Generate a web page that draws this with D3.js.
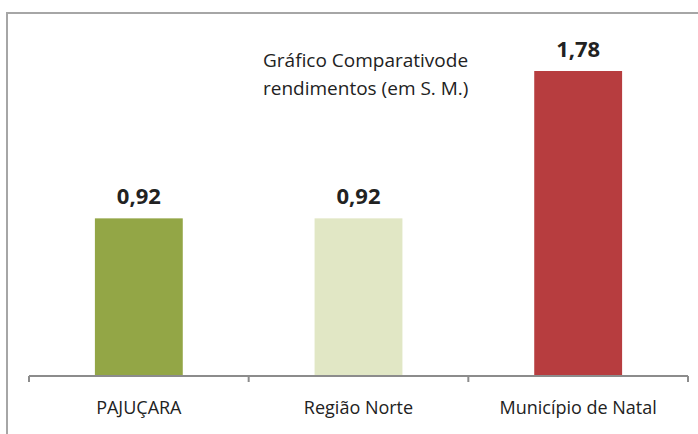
<!DOCTYPE html>
<html><head><meta charset="utf-8">
<script src="https://cdn.jsdelivr.net/npm/d3@7"></script>
<style>body{margin:0;background:#fff}svg{display:block}</style>
</head><body>
<script>
const categories = ["PAJUÇARA", "Região Norte", "Município de Natal"];
const values = [0.92, 0.92, 1.78];
const labels = ["0,92", "0,92", "1,78"];
const colors = ["#93A646", "#E1E7C5", "#B73D3F"];
const titleLines = ["Gráfico Comparativode", "rendimentos (em S. M.)"];

const W = 698, H = 434;
const svg = d3.select("body").append("svg").attr("width", W).attr("height", H);
const font = "'Open Sans', sans-serif";

// frame
svg.append("path").attr("d", `M7,${H} V13 H${W}`).attr("fill", "none")
  .attr("stroke", "#A6A6A6").attr("stroke-width", 2);

const x = d3.scaleBand().domain(categories).range([29, 688]).paddingInner(0.6).paddingOuter(0.3);
const y = d3.scaleLinear().domain([0, 1.78]).range([376, 71]);

svg.selectAll("rect.bar").data(values).join("rect").attr("class", "bar")
  .attr("x", (d, i) => x(categories[i])).attr("width", x.bandwidth())
  .attr("y", d => y(d)).attr("height", d => y(0) - y(d))
  .attr("fill", (d, i) => colors[i]);

svg.selectAll("text.val").data(values).join("text").attr("class", "val")
  .attr("x", (d, i) => x(categories[i]) + x.bandwidth() / 2)
  .attr("y", d => y(d) - 14)
  .attr("text-anchor", "middle").attr("font-family", font).attr("font-weight", "bold")
  .attr("font-size", 22).attr("fill", "#222").text((d, i) => labels[i]);

// axis
const axisG = svg.append("g").attr("transform", "translate(0,376)");
axisG.append("line").attr("x1", 29).attr("x2", 688).attr("stroke", "#8C8C8C").attr("stroke-width", 2);
const edges = [29, 29 + (688 - 29) / 3, 29 + 2 * (688 - 29) / 3, 688];
axisG.selectAll("line.tick").data(edges).join("line").attr("class", "tick")
  .attr("x1", d => d).attr("x2", d => d).attr("y1", 0).attr("y2", 6)
  .attr("stroke", "#8C8C8C").attr("stroke-width", 2);
axisG.selectAll("text").data(categories).join("text")
  .attr("x", d => x(d) + x.bandwidth() / 2).attr("y", 38)
  .attr("text-anchor", "middle").attr("font-family", font).attr("font-size", 18)
  .attr("textLength", null)
  .attr("fill", "#222").text(d => d);

svg.selectAll("text.title").data(titleLines).join("text").attr("class", "title")
  .attr("x", 263).attr("y", (d, i) => 67 + i * 28)
  .attr("font-family", font).attr("font-size", 19).attr("fill", "#222").text(d => d);
</script>
</body></html>
